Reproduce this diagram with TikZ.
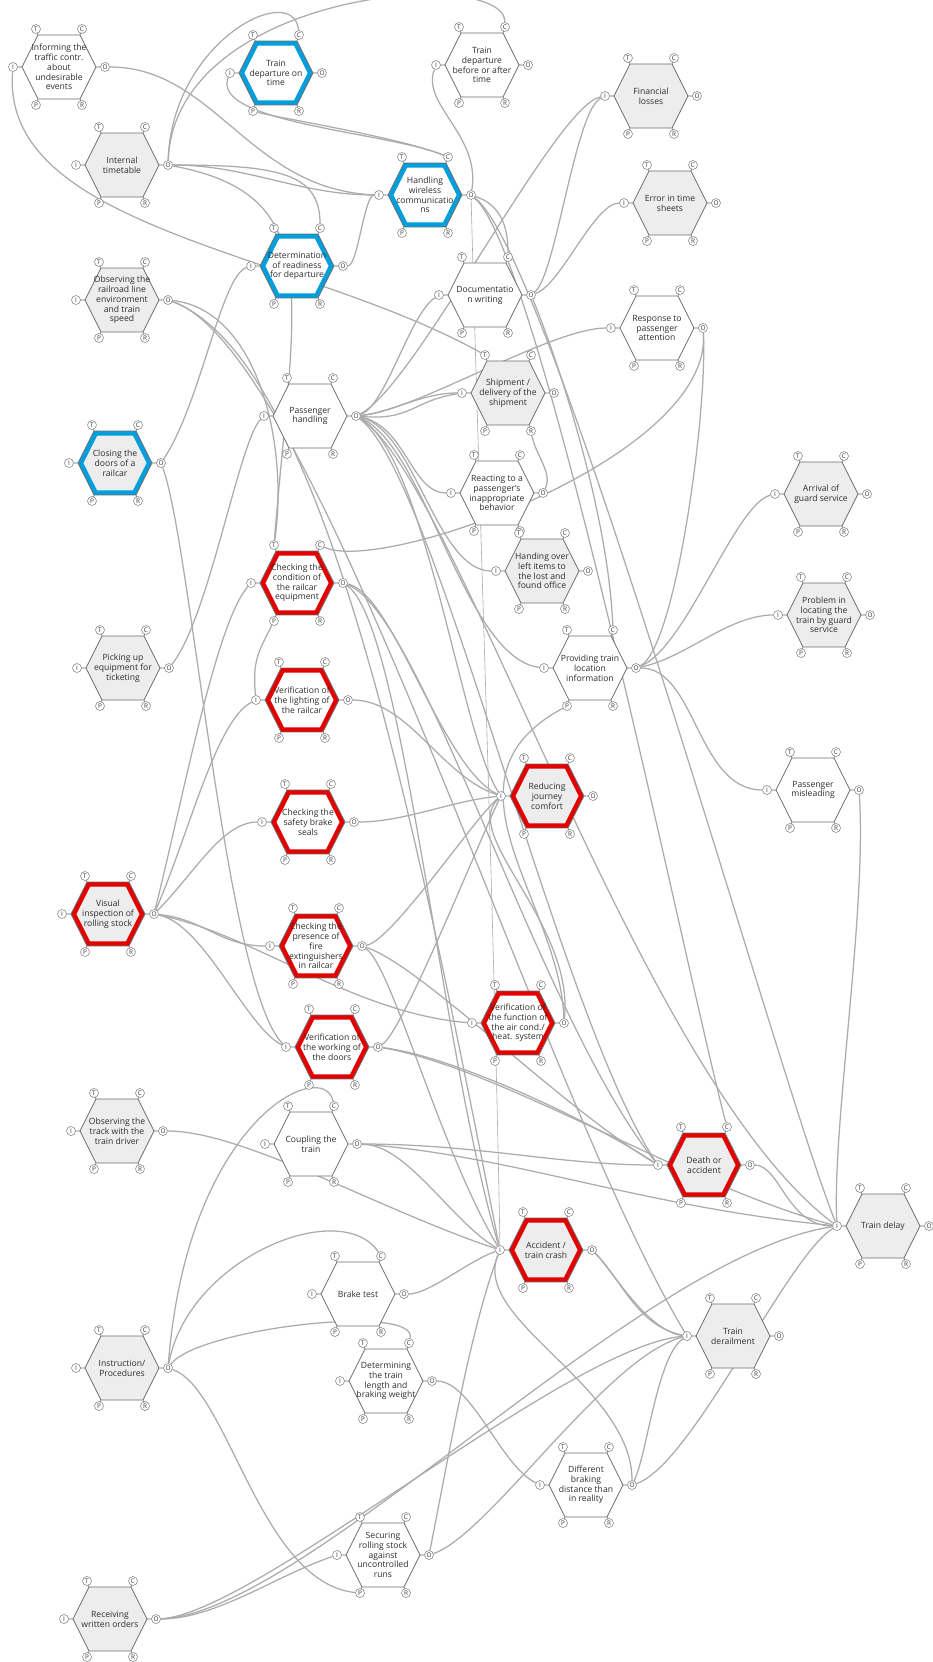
\documentclass[tikz,border=0pt]{standalone}
\usepackage{fontspec}
\setmainfont{Open Sans}

\definecolor{lnk}{RGB}{172,172,172}
\definecolor{hexc}{RGB}{110,110,110}
\definecolor{fillg}{RGB}{237,237,237}
\definecolor{bandred}{RGB}{226,0,0}
\definecolor{bandblue}{RGB}{0,158,219}
\definecolor{txt}{RGB}{45,45,45}

\pgfdeclarelayer{bg}
\pgfsetlayers{bg,main}

\newcommand\fnfont{\fontsize{8.6}{9.8}\selectfont}
\newcommand\portfont{\fontsize{6.4}{7}\selectfont}

\tikzset{
  conn/.style={draw=lnk, line width=1.25pt},
  faint/.style={line width=0.6pt},
  port/.style={circle, draw=hexc!85, fill=white, line width=0.55pt, inner sep=0pt,
               minimum size=9pt, font=\portfont, text=black!80},
  fntext/.style={align=center, inner sep=0pt, font=\fnfont, text=txt},
  hexline/.style={draw=hexc, line width=0.8pt, line join=miter},
  tickline/.style={draw=hexc, line width=0.6pt},
}

% function hexagon: name, x, y, fill, band colour, label
\newcommand\fn[6]{%
  \begin{scope}[shift={(#2,#3)}]
    \fill[#4] (-37,0) -- (-21,-32) -- (21,-32) -- (37,0) -- (21,32) -- (-21,32) -- cycle;
    \draw[draw=#5, line width=4.6pt, line join=miter]
      (-34.2,0) -- (-19.4,-29.6) -- (19.4,-29.6) -- (34.2,0) -- (19.4,29.6) -- (-19.4,29.6) -- cycle;
    \draw[hexline] (-37,0) -- (-21,-32) -- (21,-32) -- (37,0) -- (21,32) -- (-21,32) -- cycle;
    \draw[tickline] (-37,0) -- (-46,0) (37,0) -- (46,0)
      (-21,-32) -- (-23,-38) (21,-32) -- (23,-38)
      (-21,32) -- (-23,38) (21,32) -- (23,38);
  \end{scope}
  \node[fntext] (#1) at (#2,#3) {#6};
  \node[port] (#1-I) at ({#2-46},#3) {I};
  \node[port] (#1-O) at ({#2+46},#3) {O};
  \node[port] (#1-T) at ({#2-23},{#3-38}) {T};
  \node[port] (#1-C) at ({#2+23},{#3-38}) {C};
  \node[port] (#1-P) at ({#2-23},{#3+38}) {P};
  \node[port] (#1-R) at ({#2+23},{#3+38}) {R};
}

% coupling: [style] from, to, first control (rel. to start), second control (rel. to end)
\newcommand\lk[7][]{\draw[conn,#1] (#2) .. controls +(#4,#5) and +(#6,#7) .. (#3);}

\begin{document}
\begin{tikzpicture}[x=1pt, y=-1pt]
\useasboundingbox (0,0) rectangle (933,1662);

\fn{inf}{59}{67}{white}{none}{Informing the\\traffic contr.\\about\\undesirable\\events}
\fn{tot}{276}{73}{white}{bandblue}{Train\\departure on\\time}
\fn{tba}{482}{65}{white}{none}{Train\\departure\\before or after\\time}
\fn{fin}{651}{96}{fillg}{none}{Financial\\losses}
\fn{intt}{122}{165}{fillg}{none}{Internal\\timetable}
\fn{err}{670}{203}{fillg}{none}{Error in time\\sheets}
\fn{hwc}{425}{195}{white}{bandblue}{Handling\\wireless\\communicatio\\ns}
\fn{det}{297}{266}{white}{bandblue}{Determination\\of readiness\\for departure}
\fn{doc}{485}{295}{white}{none}{Documentatio\\n writing}
\fn{obsr}{122}{300}{fillg}{none}{Observing the\\railroad line\\environment\\and train\\speed}
\fn{resp}{657}{328}{white}{none}{Response to\\passenger\\attention}
\fn{pass}{310}{416}{white}{none}{Passenger\\handling}
\fn{ship}{508}{393}{fillg}{none}{Shipment /\\delivery of the\\shipment}
\fn{clos}{115}{463}{fillg}{bandblue}{Closing the\\doors of a\\railcar}
\fn{react}{497}{493}{white}{none}{Reacting to a\\passenger's\\inappropriate\\behavior}
\fn{arr}{821}{494}{fillg}{none}{Arrival of\\guard service}
\fn{hand}{542}{571}{fillg}{none}{Handing over\\left items to\\the lost and\\found office}
\fn{chk}{297}{583}{white}{bandred}{Checking the\\condition of\\the railcar\\equipment}
\fn{prob}{824}{615}{fillg}{none}{Problem in\\locating the\\train by guard\\service}
\fn{prov}{590}{668}{white}{none}{Providing train\\location\\information}
\fn{pick}{123}{668}{fillg}{none}{Picking up\\equipment for\\ticketing}
\fn{light}{302}{700}{white}{bandred}{Verification of\\the lighting of\\the railcar}
\fn{misl}{813}{790}{white}{none}{Passenger\\misleading}
\fn{red}{547}{796}{fillg}{bandred}{Reducing\\journey\\comfort}
\fn{seal}{308}{822}{white}{bandred}{Checking the\\safety brake\\seals}
\fn{vis}{108}{914}{fillg}{bandred}{Visual\\inspection of\\rolling stock}
\fn{fire}{316}{946}{white}{bandred}{Checking the\\presence of\\fire\\extinguishers\\in railcar}
\fn{air}{518}{1023}{white}{bandred}{Verification of\\the function of\\the air cond./\\heat. system}
\fn{door}{332}{1047}{white}{bandred}{Verification of\\the working of\\the doors}
\fn{obst}{117}{1131}{fillg}{none}{Observing the\\track with the\\train driver}
\fn{coup}{311}{1144}{white}{none}{Coupling the\\train}
\fn{death}{704}{1165}{fillg}{bandred}{Death or\\accident}
\fn{delay}{883}{1226}{fillg}{none}{Train delay}
\fn{acc}{546}{1250}{fillg}{bandred}{Accident /\\train crash}
\fn{brk}{358}{1294}{white}{none}{Brake test}
\fn{derail}{733}{1336}{fillg}{none}{Train\\derailment}
\fn{instr}{122}{1368}{fillg}{none}{Instruction/\\Procedures}
\fn{dtl}{386}{1381}{white}{none}{Determining\\the train\\length and\\braking weight}
\fn{diff}{586}{1485}{white}{none}{Different\\braking\\distance than\\in reality}
\fn{sec}{383}{1555}{white}{none}{Securing\\rolling stock\\against\\uncontrolled\\runs}
\fn{recv}{110}{1619}{fillg}{none}{Receiving\\written orders}

\begin{pgfonlayer}{bg}
\fill[white] (0,0) rectangle (933,1662);
% upper part
\lk{intt-O}{tot-C}{4}{-125}{-5}{-55}
\lk{intt-O}{tba-C}{7}{-175}{0}{-62}
\lk{intt-O}{hwc-I}{80}{0}{-80}{0}
\lk{intt-O}{det-C}{110}{0}{0}{-55}
\lk{intt-O}{chk-T}{160}{30}{20}{-250}
\lk{inf-O}{hwc-I}{110}{0}{-130}{-5}
\lk{inf-I}{ship-T}{-13}{163}{-185}{-103}
\lk{tot-I}{hwc-C}{-20}{50}{-60}{-25}
\lk{tot-P}{hwc-C}{30}{8}{-50}{-20}
\lk{hwc-O}{tba-I}{10}{-60}{-15}{40}
\lk{hwc-O}{doc-C}{30}{10}{0}{-30}
\lk[faint]{hwc-O}{acc-I}{8}{300}{-5}{-300}
\lk{hwc-O}{delay-I}{80}{60}{-60}{-150}
\lk{hwc-O}{death-C}{70}{60}{-40}{-150}
\lk{det-O}{hwc-I}{15}{0}{-15}{0}
\lk{clos-O}{det-I}{40}{-60}{-30}{10}
\lk{clos-O}{door-I}{30}{80}{-60}{-60}
\lk{pick-O}{pass-I}{40}{-50}{-25}{25}
\lk{obsr-O}{chk-T}{90}{10}{15}{-100}
\lk{obsr-O}{acc-I}{160}{60}{-80}{-400}
\lk{obsr-O}{derail-I}{150}{50}{-150}{-250}
% passenger handling
\lk{pass-O}{doc-I}{30}{-10}{-30}{20}
\lk{pass-O}{fin-I}{60}{-30}{-50}{10}
\lk{pass-O}{ship-I}{40}{-5}{-40}{0}
\lk{pass-O}{ship-I}{55}{5}{-50}{8}
\lk{pass-O}{resp-I}{60}{-5}{-60}{0}
\lk{pass-O}{react-I}{50}{10}{-40}{0}
\lk{pass-O}{hand-I}{60}{15}{-60}{0}
\lk{pass-O}{prov-I}{70}{30}{-80}{-10}
\lk{pass-O}{red-I}{70}{40}{-40}{-60}
\lk{pass-O}{death-I}{80}{60}{-100}{-150}
\lk{pass-O}{delay-I}{100}{60}{-200}{-150}
% documentation
\lk{doc-O}{fin-I}{25}{-20}{-30}{15}
\lk{doc-O}{err-I}{30}{-10}{-30}{0}
\lk{doc-O}{prov-C}{25}{60}{-5}{-120}
% response and location
\lk{resp-O}{chk-C}{10}{130}{60}{30}
\lk{prov-O}{resp-O}{40}{-20}{5}{80}
\lk{prov-O}{arr-I}{50}{-20}{-40}{10}
\lk{prov-O}{prob-I}{50}{-10}{-50}{0}
\lk{prov-O}{misl-I}{60}{0}{-70}{0}
\lk{react-O}{ship-R}{10}{-20}{5}{25}
% checks of the rolling stock
\lk{vis-O}{chk-I}{30}{-120}{-35}{40}
\lk{vis-O}{light-I}{35}{-80}{-40}{20}
\lk{vis-O}{seal-I}{40}{-40}{-40}{0}
\lk{vis-O}{fire-I}{50}{5}{-50}{0}
\lk{vis-O}{air-I}{100}{20}{-120}{-10}
\lk{vis-O}{door-I}{50}{10}{-40}{-20}
\lk{chk-P}{light-I}{-15}{30}{-4}{-40}
\lk{light-O}{red-I}{60}{0}{-60}{-20}
\lk{seal-O}{red-I}{50}{0}{-50}{5}
\lk{fire-O}{red-I}{30}{-5}{-25}{20}
\lk{door-O}{red-I}{25}{-15}{-20}{40}
\lk{chk-O}{red-I}{50}{10}{-60}{-30}
\lk{air-O}{prov-P}{-4}{-123}{-137}{74}
\lk{air-O}{red-I}{10}{-100}{-40}{40}
% outcomes
\lk{door-O}{death-I}{80}{10}{-60}{-40}
\lk{door-O}{delay-I}{120}{20}{-150}{-40}
\lk{coup-O}{death-I}{120}{0}{-100}{0}
\lk{coup-O}{delay-I}{150}{10}{-200}{-20}
\lk{coup-O}{acc-I}{50}{0}{-50}{-30}
\lk{obst-O}{acc-I}{80}{0}{-120}{-40}
\lk{chk-O}{death-I}{80}{30}{-120}{-150}
\lk{chk-O}{acc-I}{60}{40}{-60}{-200}
\lk{fire-O}{acc-I}{30}{20}{-60}{-100}
\lk{fire-O}{death-I}{60}{20}{-100}{-60}
\lk{death-O}{delay-I}{30}{0}{-50}{0}
\lk{misl-O}{delay-I}{8}{120}{-5}{-100}
\lk{brk-O}{acc-I}{25}{0}{-30}{10}
\lk{sec-O}{acc-I}{20}{-100}{-30}{80}
\lk{sec-O}{derail-I}{60}{-20}{-80}{20}
\lk{diff-O}{acc-I}{0}{-100}{-30}{70}
\lk{diff-O}{derail-I}{15}{-30}{-30}{20}
\lk{diff-O}{delay-I}{60}{-20}{-50}{30}
\lk{dtl-O}{diff-I}{40}{0}{-40}{-20}
\lk{acc-O}{derail-I}{20}{20}{-40}{-5}
\lk{acc-O}{derail-I}{30}{30}{-50}{-10}
% instructions and orders
\lk{instr-O}{coup-C}{20}{-250}{-10}{-50}
\lk{instr-O}{brk-C}{20}{-110}{-40}{-60}
\lk{instr-O}{dtl-C}{30}{-40}{10}{-40}
\lk{instr-O}{sec-P}{60}{20}{-100}{-10}
\lk{recv-O}{sec-I}{60}{0}{-60}{20}
\lk{recv-O}{derail-I}{100}{-5}{-120}{10}
\lk{recv-O}{delay-I}{150}{-5}{-200}{30}
\end{pgfonlayer}
\end{tikzpicture}
\end{document}
